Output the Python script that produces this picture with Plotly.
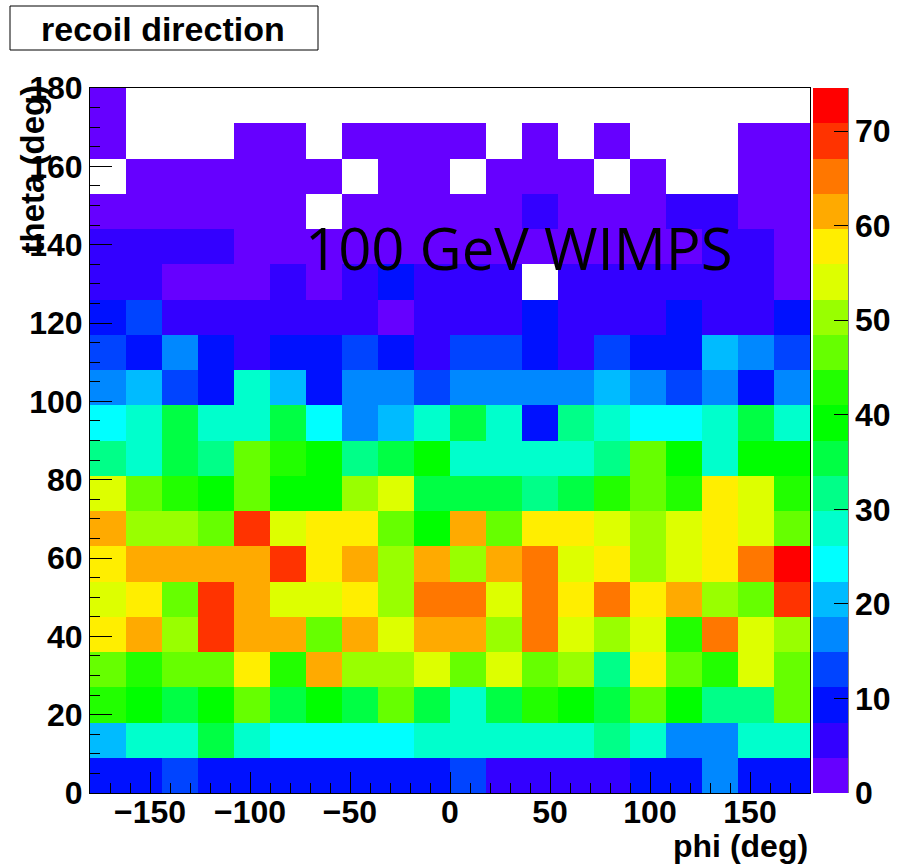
import numpy as np
import plotly.graph_objects as go

# ---- data -------------------------------------------------------------
phi_edges = np.linspace(-180, 180, 21)
theta_edges = np.linspace(0, 180, 21)

# counts per bin, rows = theta bins from 0 (bottom) to 180 (top), cols = phi bins
row_t00 = [9, 10, 14, 9, 8, 10, 9, 9, 10, 8, 13, 6, 5, 6, 7, 9, 10, 17, 9, 8]
row_t09 = [20, 28, 27, 35, 28, 25, 24, 24, 25, 28, 27, 28, 29, 28, 31, 28, 16, 17, 28, 27]
row_t18 = [43, 39, 36, 40, 46, 35, 40, 36, 47, 35, 28, 36, 42, 39, 35, 46, 40, 31, 32, 47]
row_t27 = [46, 43, 47, 45, 57, 42, 61, 50, 51, 54, 47, 53, 46, 50, 32, 58, 47, 43, 54, 46]
row_t36 = [57, 61, 50, 69, 62, 60, 46, 62, 54, 61, 62, 51, 66, 53, 50, 54, 43, 65, 53, 49]
row_t45 = [54, 57, 47, 69, 62, 53, 55, 58, 50, 65, 66, 54, 65, 57, 64, 58, 61, 51, 46, 68]
row_t54 = [58, 62, 61, 62, 60, 68, 57, 62, 51, 61, 50, 62, 65, 54, 58, 51, 53, 57, 66, 71]
row_t63 = [61, 50, 51, 47, 69, 54, 57, 58, 46, 40, 62, 47, 57, 58, 54, 50, 55, 58, 53, 47]
row_t72 = [54, 46, 43, 39, 47, 40, 38, 51, 53, 36, 35, 36, 31, 35, 43, 46, 42, 57, 54, 43]
row_t81 = [32, 28, 35, 31, 46, 43, 40, 32, 36, 39, 28, 27, 28, 28, 31, 47, 39, 28, 40, 38]
row_t90 = [24, 28, 36, 27, 28, 35, 25, 17, 21, 28, 35, 29, 10, 32, 28, 24, 25, 27, 36, 28]
row_t99 = [17, 20, 13, 9, 28, 21, 10, 16, 17, 13, 16, 17, 16, 17, 21, 17, 14, 16, 9, 17]
row_t108 = [13, 10, 17, 9, 6, 10, 9, 13, 10, 6, 13, 12, 10, 6, 14, 9, 10, 21, 17, 13]
row_t117 = [9, 13, 6, 5, 6, 7, 6, 5, 3, 6, 5, 6, 9, 6, 5, 6, 10, 6, 5, 9]
row_t126 = [5, 6, 3, 2, 3, 5, 3, 6, 9, 5, 6, 5, 0, 6, 5, 5, 6, 5, 6, 3]
row_t135 = [6, 5, 5, 6, 3, 2, 3, 2, 3, 3, 2, 3, 2, 3, 2, 3, 2, 5, 4, 3]
row_t144 = [2, 3, 2, 3, 2, 2, 0, 2, 3, 2, 2, 3, 4, 2, 3, 2, 4, 5, 3, 2]
row_t153 = [0, 2, 1, 2, 2, 1, 2, 0, 2, 1, 0, 2, 1, 2, 0, 1, 0, 0, 2, 2]
row_t162 = [1, 0, 0, 0, 1, 2, 0, 1, 1, 2, 1, 0, 1, 0, 1, 0, 0, 0, 2, 1]
row_t171 = [1, 0, 0, 0, 0, 0, 0, 0, 0, 0, 0, 0, 0, 0, 0, 0, 0, 0, 0, 0]

counts = [row_t00, row_t09, row_t18, row_t27, row_t36, row_t45, row_t54,
          row_t63, row_t72, row_t81, row_t90, row_t99, row_t108, row_t117,
          row_t126, row_t135, row_t144, row_t153, row_t162, row_t171]

x_ticks = [-150, -100, -50, 0, 50, 100, 150]
y_ticks = [0, 20, 40, 60, 80, 100, 120, 140, 160, 180]
z_ticks = [0, 10, 20, 30, 40, 50, 60, 70]

palette = ["#6600FF", "#3300FF", "#0011FF", "#0044FF", "#0088FF", "#00BBFF",
           "#00FFFF", "#00FFCC", "#00FF88", "#00FF44", "#00FF00", "#22FF00",
           "#66FF00", "#99FF00", "#DDFF00", "#FFEE00", "#FFAA00", "#FF7700",
           "#FF3300", "#FF0000"]

# ---- figure -----------------------------------------------------------
W, H = 900, 866
L, R, T, B = 90, 90, 88, 73

phi_c = 0.5 * (phi_edges[:-1] + phi_edges[1:])
theta_c = 0.5 * (theta_edges[:-1] + theta_edges[1:])
z = np.array(counts, dtype=float)
z[z == 0] = np.nan
zmax = np.nanmax(z) * 1.05

n = len(palette)
cs = []
for k, c in enumerate(palette):
    cs.append([k / n, c])
    cs.append([(k + 1) / n, c])

def px2x(px):
    return (px - L) / (W - L - R)

def px2y(py):
    return (H - B - py) / (H - T - B)

FS = 32
bold = dict(family="Liberation Sans", size=FS, color="black", weight="bold")

fig = go.Figure(go.Heatmap(
    x=phi_c, y=theta_c, z=z, zmin=0, zmax=zmax,
    colorscale=cs, hoverongaps=False,
    colorbar=dict(
        x=px2x(813), xanchor="left", xpad=0, y=0.5, yanchor="middle",
        len=1, lenmode="fraction", thickness=35, thicknessmode="pixels",
        outlinewidth=0, tickvals=z_ticks, ticks="inside", ticklen=14,
        tickcolor="black", tickfont=bold, ypad=0,
    ),
))

fig.update_layout(
    width=W, height=H, margin=dict(l=L, r=R, t=T, b=B, autoexpand=False),
    paper_bgcolor="white", plot_bgcolor="white", showlegend=False,
)
fig.update_xaxes(
    range=[-180, 180], tickvals=x_ticks, ticks="inside", ticklen=21,
    tickcolor="black", showgrid=False, zeroline=False, showline=True,
    linecolor="black", linewidth=1, mirror=True, tickfont=bold,
    ticklabelstandoff=-9,
    minor=dict(dtick=10, tick0=0, ticks="inside", ticklen=10, tickcolor="black"),
)
fig.update_yaxes(
    range=[0, 180], tickvals=y_ticks, ticks="inside", ticklen=22,
    tickcolor="black", showgrid=False, zeroline=False, showline=True,
    linecolor="black", linewidth=1, mirror=True, tickfont=bold,
    minor=dict(dtick=5, tick0=0, ticks="inside", ticklen=10, tickcolor="black"),
)

# colorbar right edge line
fig.add_shape(type="line", xref="paper", yref="paper",
              x0=px2x(848), x1=px2x(848), y0=0, y1=1,
              line=dict(color="black", width=1))

# title box
fig.add_shape(type="rect", xref="paper", yref="paper",
              x0=px2x(10), x1=px2x(318), y0=px2y(50), y1=px2y(6),
              line=dict(color="black", width=1), fillcolor="white")
fig.add_annotation(text="recoil direction", xref="paper", yref="paper",
                   x=px2x(163), y=px2y(29), xanchor="center", yanchor="middle",
                   showarrow=False,
                   font=dict(family="Liberation Sans", size=34, color="black", weight="bold"))

fig.add_annotation(text="100 GeV WIMPS", xref="paper", yref="paper",
                   x=px2x(519), y=px2y(247), xanchor="center", yanchor="middle",
                   showarrow=False,
                   font=dict(family="Open Sans", size=58, color="black"))

fig.add_annotation(text="phi (deg)", xref="paper", yref="paper",
                   x=px2x(810), y=px2y(846), xanchor="right", yanchor="middle",
                   showarrow=False,
                   font=dict(family="Liberation Sans", size=32, color="black", weight="bold"))

fig.add_annotation(text="theta (deg)", xref="paper", yref="paper",
                   x=px2x(32), y=px2y(82), xanchor="center", yanchor="top",
                   textangle=-90, showarrow=False,
                   font=dict(family="Liberation Sans", size=33, color="black", weight="bold"))

fig.write_html("out.html")
